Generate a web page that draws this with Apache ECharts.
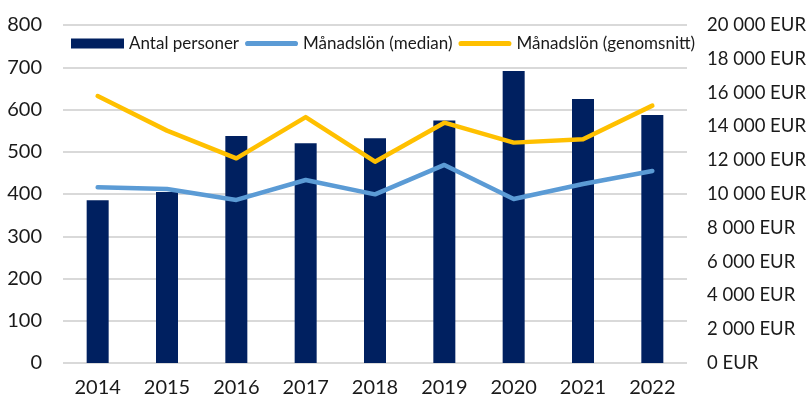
<!DOCTYPE html>
<html>
<head>
<meta charset="utf-8">
<script src="https://cdn.jsdelivr.net/npm/echarts@6/dist/echarts.min.js"></script>
<style>
  html, body { margin: 0; padding: 0; background: #fff; }
  #chart { width: 808px; height: 404px; }
</style>
</head>
<body>
<div id="chart"></div>
<script>
// data
const years = ["2014", "2015", "2016", "2017", "2018", "2019", "2020", "2021", "2022"];
const antalPersoner = [385, 405, 537, 520, 532, 574, 691, 625, 587];
const lonMedian = [10400, 10300, 9650, 10830, 9980, 11720, 9700, 10590, 11360];
const lonGenomsnitt = [15800, 13750, 12110, 14550, 11910, 14220, 13040, 13240, 15230];

const font = 'Lato, sans-serif';

const eur = (v) => String(v).replace(/\B(?=(\d{3})+(?!\d))/g, " ") + " EUR";
const lineIcon = "path://M2.5,0H49.5A2.5,2.5 0 0 1 49.5,5H2.5A2.5,2.5 0 0 1 2.5,0Z";

const myChart = echarts.init(document.getElementById("chart"));
const option = {
  animation: false,
  textStyle: { fontFamily: font, color: "#1a1a1a" },
  grid: { left: 63, right: 121, top: 25, bottom: 41, containLabel: false, outerBoundsMode: "none" },
  legend: {
    left: 66,
    top: 30,
    itemWidth: 53,
    itemHeight: 10,
    itemGap: 6,
    textStyle: { fontFamily: font, fontSize: 17, color: "#1a1a1a" },
    data: [
      { name: "Antal personer", icon: "rect" },
      { name: "Månadslön (median)", icon: lineIcon },
      { name: "Månadslön (genomsnitt)", icon: lineIcon },
    ],
  },
  xAxis: {
    type: "category",
    data: years,
    axisLine: { show: false },
    axisTick: { show: false },
    axisLabel: { fontFamily: font, fontSize: 20, color: "#1a1a1a", margin: 15 },
  },
  yAxis: [
    {
      type: "value",
      min: 0,
      max: 800,
      interval: 100,
      axisLabel: { fontFamily: font, fontSize: 20, color: "#1a1a1a", margin: 21 },
      splitLine: { lineStyle: { color: "#d9d9d9", width: 2 } },
    },
    {
      type: "value",
      min: 0,
      max: 20000,
      interval: 2000,
      position: "right",
      splitLine: { show: false },
      axisLabel: {
        fontFamily: font,
        fontSize: 18.5,
        color: "#1a1a1a",
        margin: 20,
        align: "left",
        formatter: eur,
      },
    },
  ],
  series: [
    {
      name: "Antal personer",
      type: "bar",
      data: antalPersoner,
      barWidth: 22,
      itemStyle: { color: "#002060" },
    },
    {
      name: "Månadslön (median)",
      type: "line",
      yAxisIndex: 1,
      data: lonMedian,
      symbol: "none",
      lineStyle: { color: "#5b9bd5", width: 4.5, cap: "round", join: "round" },
      itemStyle: { color: "#5b9bd5" },
    },
    {
      name: "Månadslön (genomsnitt)",
      type: "line",
      yAxisIndex: 1,
      data: lonGenomsnitt,
      symbol: "none",
      lineStyle: { color: "#ffc000", width: 4.5, cap: "round", join: "round" },
      itemStyle: { color: "#ffc000" },
    },
  ],
};
myChart.setOption(option);
</script>
</body>
</html>
